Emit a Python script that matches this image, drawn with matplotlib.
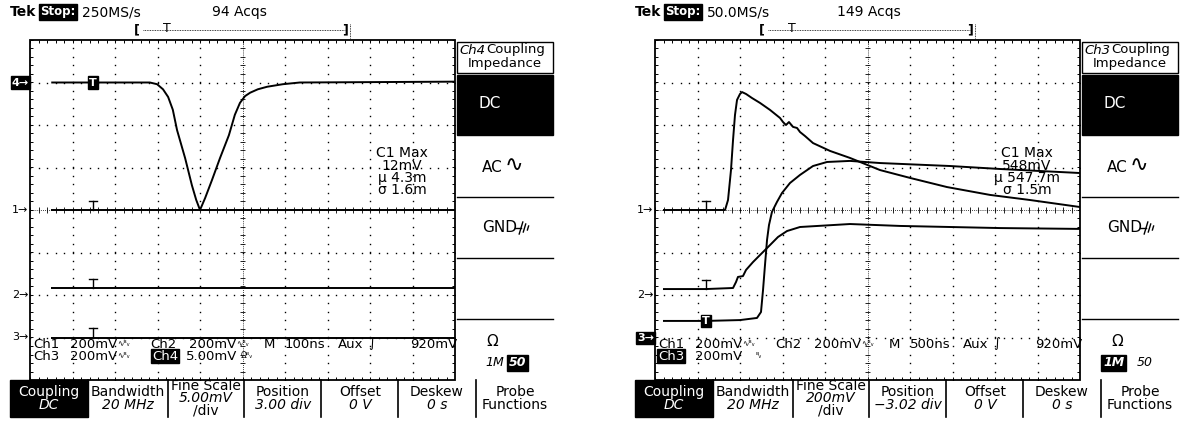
import numpy as np
import matplotlib.pyplot as plt
from matplotlib.patches import Rectangle

plt.rcParams['font.family'] = ['DejaVu Sans']

W, H = 1181, 421

# ---- left screen: 100 ns/div ----
left_ch4_t = [50, 148, 282, 299, 313, 325, 336, 346, 365, 381, 391, 400, 412, 428,
              447, 468, 482, 494, 506, 518, 536, 558, 595, 635, 1000]
left_ch4_mv = [0, 0, 0, -0.2, -0.8, -1.7, -3.2, -5.6, -8.9, -12.1, -13.8, -15.0, -13.6,
               -11.5, -8.9, -6.2, -3.8, -2.4, -1.6, -1.2, -0.8, -0.5, -0.2, 0, 0.1]
left_flat_t = [50, 1000]
left_ch1_mv = [0, 0]
left_ch2_mv = [33, 33]
left_ch3_mv = [0, 0]

# ---- right screen: 500 ns/div ----
right_ch1_t = [94, 600, 824, 859, 894, 918, 941, 965, 1000, 1024, 1071, 1141, 1235, 1353,
               1471, 1506, 1541, 1576, 1624, 1671, 1706, 1765, 1859, 2059, 2294, 2647,
               3000, 3435, 3941, 4412, 5000]
right_ch1_mv = [0, 0, 0, 47, 188, 329, 447, 518, 546, 555, 546, 527, 504, 471, 433, 414,
                400, 414, 391, 386, 367, 348, 315, 278, 245, 188, 151, 108, 71, 47, 14]
right_ch2_t = [94, 600, 918, 953, 976, 1035, 1071, 1153, 1235, 1353, 1447, 1553, 1706,
               2294, 2882, 3471, 4059, 5000]
right_ch2_mv = [28, 28, 33, 61, 85, 89, 118, 155, 188, 235, 273, 301, 320, 334, 325, 320,
                315, 311]
right_ch3_t = [94, 600, 1000, 1200, 1247, 1271, 1294, 1318, 1341, 1376, 1435, 1494, 1588,
               1706, 1859, 2024, 2294, 2647, 3471, 4059, 5000]
right_ch3_mv = [82, 82, 86, 96, 124, 228, 345, 463, 533, 595, 642, 684, 731, 769, 811,
                830, 835, 825, 811, 797, 778]

fig = plt.figure(figsize=(W / 100, H / 100), dpi=100)
bg = fig.add_axes([0, 0, 1, 1])
bg.set_xlim(0, W)
bg.set_ylim(H, 0)
bg.axis('off')


def scope_axes(x0):
    ax = fig.add_axes([x0 / W, 1 - 380 / H, 425 / W, 340 / H])
    ax.set_xlim(0, 10)
    ax.set_ylim(-4, 4)
    ax.axis('off')
    ax.add_patch(Rectangle((0, -4), 10, 8, fill=False, lw=1.3, ec='k', clip_on=False))
    ys = np.arange(-4, 4.001, 0.2)
    xs = np.arange(0, 10.001, 0.2)
    for i in range(1, 10):
        if i != 5:
            ax.plot(np.full_like(ys, i), ys, ls='none', marker='s', ms=1.0, mew=0, color='k')
    for j in range(-3, 4):
        if j != 0:
            ax.plot(xs, np.full_like(xs, j), ls='none', marker='s', ms=1.0, mew=0, color='k')
    # center cross, finely dotted with cross ticks
    ax.plot([5, 5], [-4, 4], color='k', lw=0.6, ls=(0, (1, 1.5)))
    ax.plot([0, 10], [0, 0], color='k', lw=0.6, ls=(0, (1, 1.5)))
    ax.hlines(ys, 4.95, 5.05, color='k', lw=0.6)
    ax.vlines(xs, -0.06, 0.06, color='k', lw=0.6)
    # border ticks
    ax.vlines(xs, 3.92, 4, color='k', lw=0.7)
    ax.vlines(xs, -4, -3.92, color='k', lw=0.7)
    ax.hlines(ys, 0, 0.08, color='k', lw=0.7)
    ax.hlines(ys, 9.92, 10, color='k', lw=0.7)
    return ax


def trig_T(ax, x, y, boxed=False):
    if boxed:
        ax.text(x, y, 'T', color='w', fontsize=8, fontweight='bold', ha='center', va='center',
                bbox=dict(boxstyle='square,pad=0.1', fc='k', ec='k'))
    else:
        ax.plot([x, x], [y, y + 0.22], color='k', lw=1.0)
        ax.plot([x - 0.09, x + 0.09], [y + 0.22, y + 0.22], color='k', lw=1.0)


TR = dict(color='k', lw=1.4, solid_capstyle='butt')

# left traces
axL = scope_axes(30)
lt = np.array(left_flat_t) / 100
axL.plot(np.array(left_ch4_t) / 100, np.array(left_ch4_mv) / 5 + 3.0, **TR)
axL.plot(lt, np.array(left_ch1_mv) / 200 + 0, **TR)
axL.plot(lt, np.array(left_ch2_mv) / 200 - 2, **TR)
axL.plot(lt, np.array(left_ch3_mv) / 200 - 3, **TR)
trig_T(axL, 1.48, 3.0, boxed=True)
trig_T(axL, 1.48, 0.0)
trig_T(axL, 1.48, 33 / 200 - 2)
trig_T(axL, 1.48, -3.0)

# right traces
axR = scope_axes(655)
axR.plot(np.array(right_ch1_t) / 500, np.array(right_ch1_mv) / 200, **TR)
axR.plot(np.array(right_ch2_t) / 500, np.array(right_ch2_mv) / 200 - 2, **TR)
axR.plot(np.array(right_ch3_t) / 500, np.array(right_ch3_mv) / 200 - 3.02, **TR)
trig_T(axR, 1.2, 0.0)
trig_T(axR, 1.2, 28 / 200 - 2)
trig_T(axR, 1.2, 82 / 200 - 3.02, boxed=True)

FS = 10
RS = 9.5  # readout size


def t(x, y, s, **kw):
    kw.setdefault('fontsize', FS)
    kw.setdefault('va', 'center')
    bg.text(x, y, s, **kw)


def ground(x, y):
    # earth-ground sign, drawn as strokes
    bg.plot([x, x + 6], [y, y], color='k', lw=1)
    for k, h in enumerate((6, 4, 2)):
        xx = x + 6 + 3.5 * k
        bg.plot([xx + h * 0.3, xx - h * 0.3], [y - h, y + h], color='k', lw=1)


def panel(dx, rate, acqs, ch, sel, scale, pos, tdiv, meas, marks, imp_sel):
    # header
    t(10 + dx, 12, 'Tek', fontweight='bold')
    t(40 + dx, 12, 'Stop:', color='w', fontweight='bold', fontsize=8.5,
      bbox=dict(boxstyle='square,pad=0.12', fc='k', ec='k'))
    t(82 + dx, 12, rate)
    t(212 + dx, 12, acqs)
    tl = 137 + dx
    t(tl, 30, '[', fontsize=9, ha='center', fontweight='bold')
    bg.plot([tl + 6, tl + 208], [30, 30], color='k', lw=0.6, ls=(0, (1, 1)))
    t(tl + 30, 29, 'T', fontsize=9, ha='center')
    t(tl + 208, 30, ']', fontsize=9, ha='center', fontweight='bold')
    bg.plot([tl + 213, tl + 213], [24, 38], color='k', lw=0.6, ls=(0, (1, 1)))

    # channel markers
    for lab, y, boxed in marks:
        if boxed:
            t(12 + dx, y, lab + '→', fontsize=8, color='w', fontweight='bold',
              bbox=dict(boxstyle='square,pad=0.1', fc='k', ec='k'))
        else:
            t(12 + dx, y, lab + '→', fontsize=8)

    # measurement
    for k, s in enumerate(meas):
        t(402 + dx, 153 + 12.5 * k, s, ha='center', fontsize=FS)

    # readouts
    y1, y2 = 344, 356
    t(33 + dx, y1, 'Ch1', fontsize=RS)
    t(70 + dx, y1, '200mV', fontsize=RS)
    t(117 + dx, y1, '∿ᴮᵥ', fontsize=5.5)
    t(150 + dx, y1, 'Ch2', fontsize=RS)
    t(189 + dx, y1, '200mV', fontsize=RS)
    t(236 + dx, y1, '∿ᴮᵥ', fontsize=5.5)
    t(264 + dx, y1, 'M', fontsize=RS)
    t(285 + dx, y1, tdiv, fontsize=RS)
    t(338 + dx, y1, 'Aux', fontsize=RS)
    t(368 + dx, y1, '∫', fontstyle='italic', fontsize=RS)
    t(410 + dx, y1, '920mV', fontsize=RS)
    if sel == 'Ch4':
        t(33 + dx, y2, 'Ch3', fontsize=RS)
        t(70 + dx, y2, '200mV', fontsize=RS)
        t(117 + dx, y2, '∿ᴮᵥ', fontsize=5.5)
        t(152 + dx, y2, 'Ch4', color='w', fontsize=RS,
          bbox=dict(boxstyle='square,pad=0.05', fc='k', ec='k'))
        t(186 + dx, y2, '5.00mV', fontsize=RS)
        t(241 + dx, y2, 'Ωᴮᵥ', fontsize=5.5)
    else:
        t(33 + dx, y2, 'Ch3', color='w', fontsize=RS,
          bbox=dict(boxstyle='square,pad=0.05', fc='k', ec='k'))
        t(70 + dx, y2, '200mV', fontsize=RS)
        t(130 + dx, y2, 'ᴮᵥ', fontsize=5.5)

    # side menu
    bg.add_patch(Rectangle((457 + dx, 42), 96, 31, fill=False, ec='k', lw=1))
    t(459 + dx, 50, ch, fontstyle='italic', fontsize=9.5)
    t(486 + dx, 50, 'Coupling', fontsize=9.5)
    t(505 + dx, 63, 'Impedance', ha='center', fontsize=9.5)
    bg.add_patch(Rectangle((457 + dx, 75), 96, 60, fc='k', ec='k'))
    t(490 + dx, 104, 'DC', color='w', ha='center', fontsize=11)
    t(482 + dx, 167, 'AC', fontsize=11)
    t(505 + dx, 165, '∿', fontsize=16)
    t(482 + dx, 228, 'GND', fontsize=11)
    ground(515 + dx, 228)
    for yy in (197, 258, 319):
        bg.plot([457 + dx, 553 + dx], [yy, yy], color='k', lw=1)
    t(486 + dx, 342, 'Ω', fontsize=11)
    if imp_sel == '50':
        t(485 + dx, 363, '1M', fontstyle='italic', fontsize=9)
        t(509 + dx, 363, '50', color='w', fontstyle='italic', fontweight='bold', fontsize=9,
          bbox=dict(boxstyle='square,pad=0.15', fc='k', ec='k'))
    else:
        t(478 + dx, 363, '1M', color='w', fontstyle='italic', fontweight='bold', fontsize=9,
          bbox=dict(boxstyle='square,pad=0.15', fc='k', ec='k'))
        t(512 + dx, 363, '50', fontstyle='italic', fontsize=9)

    # bottom buttons
    bg.add_patch(Rectangle((10 + dx, 380), 78, 37, fc='k', ec='k'))
    for xx in (88, 168, 244, 321, 398, 476):
        bg.plot([xx + dx, xx + dx], [380, 417], color='k', lw=1.2)
    t(49 + dx, 392, 'Coupling', ha='center', color='w')
    t(49 + dx, 405, 'DC', ha='center', color='w', fontstyle='italic')
    t(128 + dx, 392, 'Bandwidth', ha='center')
    t(128 + dx, 405, '20 MHz', ha='center', fontstyle='italic')
    t(206 + dx, 386, 'Fine Scale', ha='center')
    t(206 + dx, 398, scale, ha='center', fontstyle='italic')
    t(206 + dx, 410, '/div', ha='center')
    t(283 + dx, 392, 'Position', ha='center')
    t(283 + dx, 405, pos, ha='center', fontstyle='italic')
    t(360 + dx, 392, 'Offset', ha='center')
    t(360 + dx, 405, '0 V', ha='center', fontstyle='italic')
    t(437 + dx, 392, 'Deskew', ha='center')
    t(437 + dx, 405, '0 s', ha='center', fontstyle='italic')
    t(515 + dx, 392, 'Probe', ha='center')
    t(515 + dx, 405, 'Functions', ha='center')


panel(0, '250MS/s', '94 Acqs', 'Ch4', 'Ch4', '5.00mV', '3.00 div', '100ns',
      ['C1 Max', '12mV', 'µ 4.3m', 'σ 1.6m'],
      [('4', 82.5, True), ('1', 210, False), ('2', 295, False), ('3', 337.5, False)], '50')
panel(625, '50.0MS/s', '149 Acqs', 'Ch3', 'Ch3', '200mV', '−3.02 div', '500ns',
      ['C1 Max', '548mV', 'µ 547.7m', 'σ 1.5m'],
      [('1', 210, False), ('2', 295, False), ('3', 338, True)], '1M')

fig.savefig('out.png', dpi=100)
